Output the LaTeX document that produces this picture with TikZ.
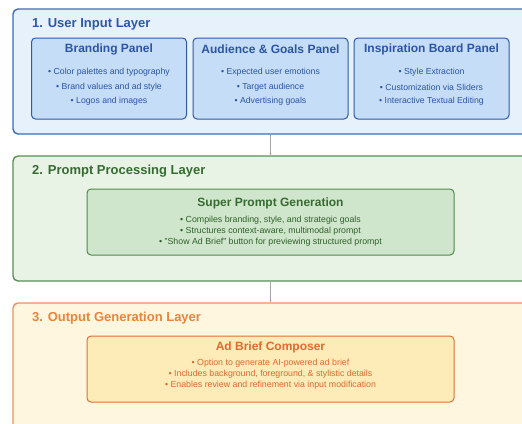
\documentclass[tikz,border=0pt]{standalone}
\usepackage{fontspec}
\setmainfont{Liberation Sans}
\usetikzlibrary{arrows.meta}
\definecolor{bfill}{HTML}{E6F1FC}
\definecolor{bline}{HTML}{3A6CC2}
\definecolor{btext}{HTML}{2A58AC}
\definecolor{pfill}{HTML}{C5DDF6}
\definecolor{pline}{HTML}{2E5AA8}
\definecolor{ptext}{HTML}{2B55A5}
\definecolor{gfill}{HTML}{E8F3E6}
\definecolor{gline}{HTML}{5A8F55}
\definecolor{gtext}{HTML}{366B32}
\definecolor{gifill}{HTML}{D0E6CC}
\definecolor{giline}{HTML}{4E8A4A}
\definecolor{gbody}{HTML}{2F5F2B}
\definecolor{ofill}{HTML}{FFF6E0}
\definecolor{oline}{HTML}{E8955A}
\definecolor{otext}{HTML}{E8853C}
\definecolor{oifill}{HTML}{FDEBB8}
\definecolor{oiline}{HTML}{E07038}
\definecolor{obody}{HTML}{E06A30}
\tikzset{
  layerbox/.style={draw, line width=1.4pt, rounded corners=5pt, minimum width=515pt, inner sep=0pt},
  layertitle/.style={anchor=west, font=\fontsize{13}{15}\selectfont\bfseries, inner sep=0pt},
  panelbox/.style={draw, line width=1pt, rounded corners=4pt, inner sep=0pt},
  paneltitle/.style={font=\fontsize{12}{14}\selectfont\bfseries, inner sep=0pt},
  bodytext/.style={font=\fontsize{8.7}{10}\selectfont, inner sep=0pt},
  smalltext/.style={font=\fontsize{8.8}{10}\selectfont, inner sep=0pt, align=center},
  link/.style={draw=gray!70, line width=0.9pt, -{Stealth[length=2pt,width=2pt]}}
}
\begin{document}
\begin{tikzpicture}[x=1pt,y=-1pt]
\useasboundingbox (0,0) rectangle (522,423);
% Layer 1
\node[layerbox, fill=bfill, draw=bline, minimum height=125pt] (L1) at (270.5,71.5) {};
\node[layertitle, text=btext] (L1t) at (32,24.5) {1. User Input Layer};
\foreach \nm/\cx/\ti/\a/\b/\c in {
  P1/109/Branding Panel/Color palettes and typography/Brand values and ad style/Logos and images,
  P2/270.5/Audience \& Goals Panel/Expected user emotions/Target audience/Advertising goals,
  P3/431.5/Inspiration Board Panel/Style Extraction/Customization via Sliders/Interactive Textual Editing}{
  \node[panelbox, fill=pfill, draw=pline, minimum width=155pt, minimum height=81pt] (\nm) at (\cx,78.5) {};
  \node[paneltitle, text=ptext] (\nm t) at (\cx,49.5) {\ti};
  \node[bodytext, text=ptext] (\nm a) at (\cx,72.5) {• \a};
  \node[bodytext, text=ptext] (\nm b) at (\cx,87) {• \b};
  \node[bodytext, text=ptext] (\nm c) at (\cx,101.5) {• \c};
}
% Layer 2
\node[layerbox, fill=gfill, draw=gline, minimum height=125pt] (L2) at (270.5,218.5) {};
\node[layertitle, text=gtext] (L2t) at (32,171.5) {2. Prompt Processing Layer};
\node[panelbox, fill=gifill, draw=giline, minimum width=367pt, minimum height=66pt] (S) at (270.5,222) {};
\node[paneltitle, text=gtext] (St) at (270.5,203.5) {Super Prompt Generation};
\node[smalltext, text=gbody] (Sa) at (270.5,220) {• Compiles branding, style, and strategic goals};
\node[smalltext, text=gbody] (Sb) at (270.5,231) {• Structures context-aware, multimodal prompt};
\node[smalltext, text=gbody] (Sc) at (270.5,242) {• "Show Ad Brief" button for previewing structured prompt};
% Layer 3
\node[layerbox, fill=ofill, draw=oline, minimum height=140pt] (L3) at (270.5,373) {};
\node[layertitle, text=otext] (L3t) at (32,318.5) {3. Output Generation Layer};
\node[panelbox, fill=oifill, draw=oiline, minimum width=367pt, minimum height=66pt] (A) at (270.5,369) {};
\node[paneltitle, text=obody] (At) at (270.5,347.5) {Ad Brief Composer};
\node[smalltext, text=obody] (Aa) at (270.5,363) {• Option to generate AI-powered ad brief};
\node[smalltext, text=obody] (Ab) at (270.5,374) {• Includes background, foreground, \& stylistic details};
\node[smalltext, text=obody] (Ac) at (270.5,385) {• Enables review and refinement via input modification};
% connectors
\draw[link] (L1.south) -- (L2.north);
\draw[link] (L2.south) -- (L3.north);
\end{tikzpicture}
\end{document}
